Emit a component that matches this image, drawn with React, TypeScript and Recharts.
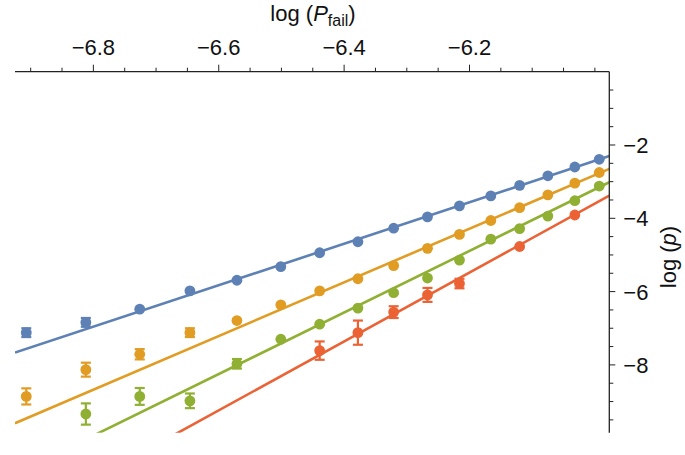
import React from "react";
import { ComposedChart, Scatter, Line, XAxis, YAxis, ErrorBar } from "recharts";

// log(P_fail) positions shared by all series
const pFail = [
  -6.907, -6.812, -6.726, -6.646, -6.571, -6.501, -6.439, -6.378,
  -6.321, -6.267, -6.216, -6.166, -6.12, -6.075, -6.032, -5.993,
];

const blueVals = [-7.12, -6.84, -6.48, -5.98, -5.69, -5.32, -4.94, -4.64, -4.27, -3.96, -3.66, -3.39, -3.1, -2.84, -2.6, -2.39];
const blueErr = [0.12, 0.12, 0, 0, 0, 0, 0, 0, 0, 0, 0, 0, 0, 0, 0, 0];

const orangeVals = [-8.86, -8.13, -7.71, -7.12, -6.79, -6.36, -5.98, -5.65, -5.29, -4.82, -4.44, -4.06, -3.71, -3.36, -3.04, -2.75];
const orangeErr = [0.22, 0.19, 0.14, 0.12, 0, 0, 0, 0, 0, 0, 0, 0, 0, 0, 0, 0];

const greenVals = [null, -9.34, -8.86, -8.98, -7.97, -7.3, -6.89, -6.45, -6.03, -5.63, -5.14, -4.57, -4.28, -3.94, -3.52, -3.12];
const greenErr = [0, 0.29, 0.23, 0.2, 0.13, 0, 0, 0, 0, 0, 0, 0, 0, 0, 0, 0];

const redVals = [null, null, null, null, null, null, -7.61, -7.12, -6.56, -6.09, -5.78, null, -4.77, null, -3.91, null];
const redErr = [0, 0, 0, 0, 0, 0, 0.25, 0.33, 0.16, 0.19, 0.13, 0, 0, 0, 0, 0];

// fitted straight lines: slope and value at log(P_fail) = -6
const fitSlope = [5.66, 7.32, 8.4, 9.4];
const fitAtMinus6 = [-2.43, -2.82, -3.21, -3.6];

const xMajor = [-6.8, -6.6, -6.4, -6.2];
const xTicks = [-6.9, -6.85, -6.8, -6.75, -6.7, -6.65, -6.6, -6.55, -6.5, -6.45, -6.4, -6.35, -6.3, -6.25, -6.2, -6.15, -6.1, -6.05, -6.0];
const yMajor = [-2, -4, -6, -8];
const yTicks = [-0.5, -1, -1.5, -2, -2.5, -3, -3.5, -4, -4.5, -5, -5.5, -6, -6.5, -7, -7.5, -8, -8.5, -9, -9.5];

const COLORS = ["#5E81B5", "#E19C24", "#8FB032", "#EB6235"];
const FONT = "'Liberation Sans', Arial, Helvetica, sans-serif";

const xDomain: [number, number] = [-6.925, -5.977];
const yDomain: [number, number] = [-9.85, 0];

const makePoints = (vals: (number | null)[], errs: number[]) =>
  vals
    .map((v, i) => (v === null ? null : { x: pFail[i], y: v, err: errs[i] }))
    .filter((d) => d !== null);

const series = [
  makePoints(blueVals, blueErr),
  makePoints(orangeVals, orangeErr),
  makePoints(greenVals, greenErr),
  makePoints(redVals, redErr),
];

const fitLines = fitSlope.map((s, i) =>
  xDomain.map((x) => ({ x, y: fitAtMinus6[i] + s * (x + 6) }))
);

const near = (a: number, list: number[]) => list.some((b) => Math.abs(a - b) < 1e-6);
const fmt = (v: number) => "\u2212" + Math.abs(v).toString();

const XTick = (props: any) => {
  const { x, y, payload } = props;
  const major = near(payload.value, xMajor);
  return (
    <g>
      <line x1={x} y1={y} x2={x} y2={y - (major ? 7 : 4)} stroke="#222" strokeWidth={1} />
      {major && (
        <text x={x} y={y - 17} textAnchor="middle" fontSize={22} fontFamily={FONT} fill="#111">
          {payload.value.toFixed(1).replace("-", "\u2212")}
        </text>
      )}
    </g>
  );
};

const YTick = (props: any) => {
  const { x, y, payload } = props;
  const major = near(payload.value, yMajor);
  return (
    <g>
      <line x1={x} y1={y} x2={x + (major ? 6 : 4)} y2={y} stroke="#222" strokeWidth={1} />
      {major && (
        <text x={x + 14} y={y + 8} textAnchor="start" fontSize={22} fontFamily={FONT} fill="#111">
          {fmt(payload.value)}
        </text>
      )}
    </g>
  );
};

const Dot = (color: string) => (p: any) => <circle cx={p.cx} cy={p.cy} r={5.4} fill={color} />;

export default function App() {
  return (
    <div style={{ position: "absolute", left: 0, top: 0, width: 685, height: 455, background: "#fff" }}>
      <ComposedChart
        width={685}
        height={455}
        margin={{ top: 31.7, right: 15.7, left: 15, bottom: 22.3 }}
      >
        <XAxis
          dataKey="x"
          type="number"
          orientation="top"
          height={40}
          domain={xDomain}
          allowDataOverflow
          ticks={xTicks}
          interval={0}
          tickSize={0}
          tickMargin={0}
          tickLine={false}
          tick={<XTick />}
          axisLine={{ stroke: "#222", strokeWidth: 1.3 }}
        />
        <YAxis
          dataKey="y"
          type="number"
          orientation="right"
          width={60}
          domain={yDomain}
          allowDataOverflow
          ticks={yTicks}
          interval={0}
          tickSize={0}
          tickMargin={0}
          tickLine={false}
          tick={<YTick />}
          axisLine={{ stroke: "#222", strokeWidth: 1.3 }}
        />
        {fitLines.map((d, i) => (
          <Line
            key={"fit" + i}
            data={d}
            dataKey="y"
            type="linear"
            stroke={COLORS[i]}
            strokeWidth={2.6}
            dot={false}
            activeDot={false}
            isAnimationActive={false}
          />
        ))}
        {series.map((d, i) => (
          <Scatter key={"pts" + i} data={d as any[]} fill={COLORS[i]} shape={Dot(COLORS[i])} isAnimationActive={false}>
            <ErrorBar dataKey="err" direction="y" width={5} strokeWidth={2.2} stroke={COLORS[i]} />
          </Scatter>
        ))}
      </ComposedChart>
      <svg width={685} height={455} style={{ position: "absolute", left: 0, top: 0, pointerEvents: "none" }}>
        <text x={313} y={21} textAnchor="middle" fontSize={22} fontFamily={FONT} fill="#111">
          log (<tspan fontStyle="italic">P</tspan>
          <tspan fontSize={16} dy={5}>fail</tspan>
          <tspan dy={-5}>)</tspan>
        </text>
        <text
          x={668}
          y={257}
          textAnchor="middle"
          dominantBaseline="central"
          fontSize={22}
          fontFamily={FONT}
          fill="#111"
          transform="rotate(-90, 668, 257)"
        >
          log (<tspan fontStyle="italic">p</tspan>)
        </text>
      </svg>
    </div>
  );
}
